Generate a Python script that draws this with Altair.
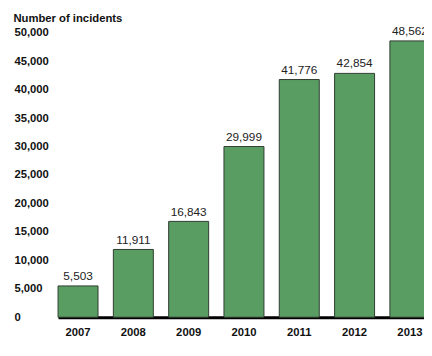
import altair as alt
import pandas as pd

years = ["2007", "2008", "2009", "2010", "2011", "2012", "2013"]
incidents = [5503, 11911, 16843, 29999, 41776, 42854, 48562]
y_ticks = [0, 5000, 10000, 15000, 20000, 25000, 30000, 35000, 40000, 45000, 50000]

df = pd.DataFrame({"year": years, "incidents": incidents})

FONT = "Liberation Sans"

x_enc = alt.X(
    "year:N",
    sort=years,
    scale=alt.Scale(paddingInner=0.277, paddingOuter=0, range=[0, 379]),
    axis=alt.Axis(
        title=None,
        labelAngle=0,
        labelFont=FONT,
        labelFontWeight="bold",
        labelFontSize=11.5,
        labelColor="#111",
        labelPadding=10,
        ticks=False,
        tickSize=0,
        domain=True,
        domainColor="#000",
        domainWidth=3,
        grid=False,
    ),
)

y_enc = alt.Y(
    "incidents:Q",
    scale=alt.Scale(domain=[0, 50000], nice=False),
    axis=alt.Axis(
        values=y_ticks,
        format=",d",
        title="Number of incidents",
        titleAngle=0,
        titleAlign="left",
        titleBaseline="alphabetic",
        titleX=-46,
        titleY=-11.5,
        titleFont=FONT,
        titleFontWeight="bold",
        titleFontSize=11.5,
        titleColor="#111",
        labelFont=FONT,
        labelFontWeight="bold",
        labelFontSize=11.5,
        labelColor="#111",
        labelAlign="left",
        labelBaseline="middle",
        labelPadding=45,
        labelOverlap=False,
        ticks=False,
        tickSize=0,
        domain=False,
        grid=False,
    ),
)

bars = alt.Chart(df).mark_bar(
    color="#5a9d62", stroke="#2e3b30", strokeWidth=1
).encode(x=x_enc, y=y_enc)

labels = alt.Chart(df).mark_text(
    baseline="alphabetic", dy=-6, font=FONT, fontSize=12, color="#222"
).encode(
    x=x_enc,
    y=y_enc,
    text=alt.Text("incidents:Q", format=",d"),
)

chart = (
    alt.layer(bars, labels)
    .properties(
        width=373,
        height=290,
        background="white",
        autosize=alt.AutoSizeParams(type="none"),
        padding={"left": 51, "top": 22, "right": 0, "bottom": 20},
    )
    .configure_view(strokeWidth=0)
)

chart.save("out.html", embed_options={"renderer": "svg", "actions": False})
